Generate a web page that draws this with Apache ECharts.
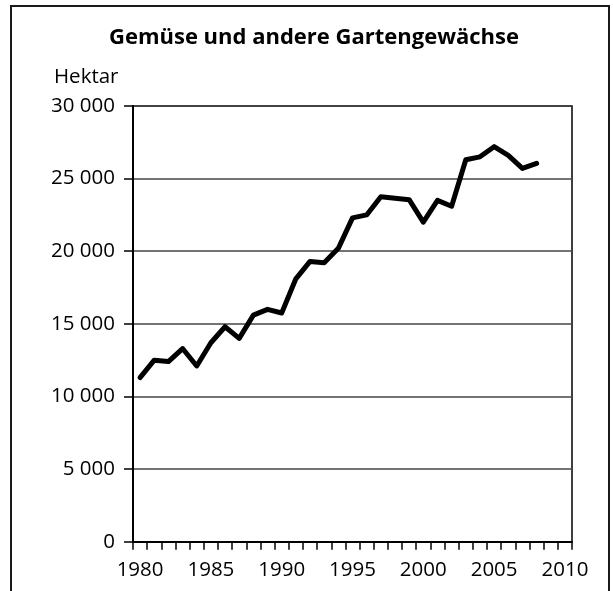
<!DOCTYPE html>
<html>
<head>
<meta charset="utf-8">
<script src="https://cdn.jsdelivr.net/npm/echarts@6/dist/echarts.min.js"></script>
<style>html,body{margin:0;padding:0;background:#fff;}#chart{width:613px;height:591px;}</style>
</head>
<body>
<div id="chart"></div>
<script>
var titleText = 'Gemüse und andere Gartengewächse';
var unitText = 'Hektar';
var years = [];
for (var y = 1980; y <= 2010; y++) years.push(String(y));
var hectares = [11300, 12500, 12400, 13300, 12100, 13700, 14800, 14000, 15600, 16000,
  15750, 18100, 19300, 19200, 20200, 22300, 22500, 23750, 23650, 23550,
  22000, 23500, 23100, 26300, 26500, 27200, 26600, 25700, 26050];
var yTicks = [0, 5000, 10000, 15000, 20000, 25000, 30000];

var FONT = 'Open Sans';
var chart = echarts.init(document.getElementById('chart'), null, {renderer: 'canvas'});
chart.setOption({
  animation: false,
  backgroundColor: '#fff',
  graphic: [
    {type: 'rect', shape: {x: 11, y: 6, width: 598, height: 700}, style: {fill: 'none', stroke: '#1a1a1a', lineWidth: 2}, silent: true},
    {type: 'text', x: 314, y: 38, style: {text: titleText, font: 'bold 22px "' + FONT + '"', fill: '#000', textAlign: 'center', textVerticalAlign: 'middle'}},
    {type: 'text', x: 54, y: 77, style: {text: unitText, font: '20.5px "' + FONT + '"', fill: '#000', textAlign: 'left', textVerticalAlign: 'middle'}}
  ],
  grid: {left: 133, right: 41, top: 106, bottom: 49.3, show: true, borderColor: '#000', borderWidth: 1.5, backgroundColor: 'transparent'},
  xAxis: {
    type: 'category',
    data: years,
    boundaryGap: true,
    axisLine: {show: true, lineStyle: {color: '#000', width: 2}},
    axisTick: {show: true, interval: 0, length: 8, inside: false, lineStyle: {color: '#000', width: 1.5}},
    axisLabel: {interval: 4, margin: 18, color: '#000', fontFamily: FONT, fontSize: 20.5, lineHeight: 20},
    splitLine: {show: false}
  },
  yAxis: {
    type: 'value',
    min: yTicks[0],
    max: yTicks[yTicks.length - 1],
    interval: 5000,
    axisLine: {show: true, lineStyle: {color: '#000', width: 2}},
    axisTick: {show: true, length: 9, lineStyle: {color: '#000', width: 1.5}},
    axisLabel: {
      margin: 18, color: '#000', fontFamily: FONT, fontSize: 20.5, padding: [0, 0, 8, 0],
      formatter: function (v) { return String(v).replace(/\B(?=(\d{3})+(?!\d))/g, ' '); }
    },
    splitLine: {show: true, lineStyle: {color: '#444', width: 1.5}}
  },
  series: [{
    type: 'line',
    data: hectares,
    showSymbol: false,
    symbol: 'none',
    lineStyle: {color: '#000', width: 5, join: 'round', cap: 'round'},
    z: 5
  }]
});
</script>
</body>
</html>
